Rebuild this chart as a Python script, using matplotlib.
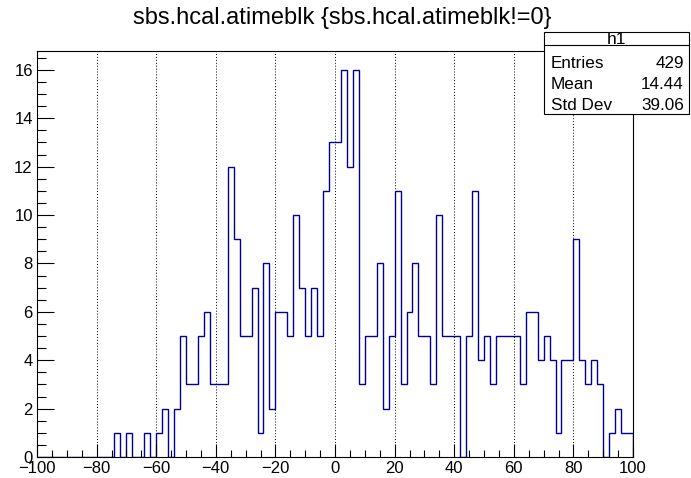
import numpy as np
import matplotlib
matplotlib.use("Agg")
import matplotlib.pyplot as plt
from matplotlib.patches import Rectangle
from matplotlib.ticker import MultipleLocator

plt.rcParams['font.family'] = ['Liberation Sans', 'DejaVu Sans']

# histogram h1: 100 bins from -100 to 100
x_lo, x_hi, n_bins = -100, 100, 100
counts = [0, 0, 0, 0, 0, 0, 0, 0, 0, 0,
          0, 0, 0, 1, 0, 1, 0, 0, 1, 0,
          1, 2, 0, 2, 5, 3, 3, 5, 6, 3,
          3, 3, 12, 9, 5, 5, 7, 1, 8, 2,
          6, 6, 5, 10, 7, 5, 7, 5, 11, 13,
          13, 16, 12, 16, 3, 5, 5, 8, 2, 5,
          11, 3, 6, 8, 5, 5, 3, 10, 5, 5,
          5, 0, 5, 11, 4, 5, 3, 5, 5, 5,
          5, 3, 6, 6, 4, 5, 4, 1, 4, 4,
          9, 4, 3, 4, 3, 0, 1, 2, 1, 1]

title = "sbs.hcal.atimeblk {sbs.hcal.atimeblk!=0}"
stats_name = "h1"
stats_rows = [("Entries", "429"), ("Mean", "14.44"), ("Std Dev", "39.06")]

edges = np.linspace(x_lo, x_hi, n_bins + 1)

fig = plt.figure(figsize=(6.91, 4.78), dpi=100)
W, H = 691, 478
ax = fig.add_axes([37 / W, 1 - 457 / H, 596 / W, 406.5 / H])

ax.stairs(counts, edges, color='#000099', lw=1.0, baseline=0)

ax.set_xlim(x_lo, x_hi)
ax.set_ylim(0, 16.8)
ax.xaxis.set_major_locator(MultipleLocator(20))
ax.xaxis.set_minor_locator(MultipleLocator(5))
ax.yaxis.set_major_locator(MultipleLocator(2))
ax.yaxis.set_minor_locator(MultipleLocator(0.5))

for gx in np.arange(-80, 100, 20):
    ax.axvline(gx, color='black', lw=0.7, ls=(0, (1, 2)), zorder=0)

ax.tick_params(axis='x', which='major', direction='in', length=9.4, width=0.8, labelsize=12, pad=3)
ax.tick_params(axis='x', which='minor', direction='in', length=4.7, width=0.8)
ax.tick_params(axis='y', which='major', direction='in', length=12.5, width=0.8, labelsize=12, pad=3)
ax.tick_params(axis='y', which='minor', direction='in', length=6.3, width=0.8)
for s in ax.spines.values():
    s.set_linewidth(0.8)

fig.text(342 / W, 1 - 18 / H, title, ha='center', va='center', fontsize=17)

# stats box
bx0, bx1, by0, by1, bhead = 544, 689, 32, 114, 45
fig.patches.append(Rectangle((bx0 / W, 1 - by1 / H), (bx1 - bx0) / W, (by1 - by0) / H,
                             transform=fig.transFigure, fill=True, facecolor='white',
                             edgecolor='black', lw=0.8, zorder=5))
fig.add_artist(plt.Line2D([bx0 / W, bx1 / W], [1 - bhead / H, 1 - bhead / H],
                          transform=fig.transFigure, color='black', lw=0.8, zorder=6))
fig.text((bx0 + bx1) / 2 / W, 1 - 39 / H, stats_name, ha='center', va='center', fontsize=12.5, zorder=7)
for i, (k, v) in enumerate(stats_rows):
    yy = 1 - (64 + 20.5 * i) / H
    fig.text(551 / W, yy, k, ha='left', va='center', fontsize=12.3, zorder=7)
    fig.text(684 / W, yy, v, ha='right', va='center', fontsize=12.3, zorder=7)

fig.savefig('out.png', dpi=100)
